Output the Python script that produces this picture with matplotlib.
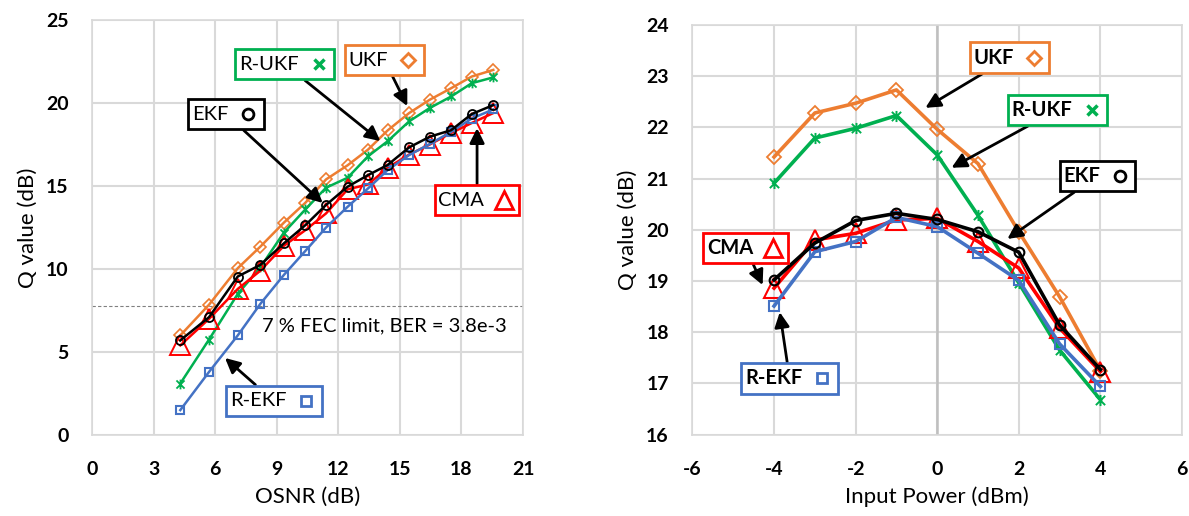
import matplotlib
matplotlib.use("Agg")
import matplotlib.pyplot as plt
from matplotlib.offsetbox import AnnotationBbox, TextArea, HPacker, DrawingArea
from matplotlib.lines import Line2D
from matplotlib.path import Path

plt.rcParams['font.family'] = ['Lato', 'DejaVu Sans']
plt.rcParams['axes.unicode_minus'] = False

# left panel: Q vs OSNR
osnr = [4.3, 5.7, 7.1, 8.2, 9.35, 10.4, 11.4, 12.45, 13.45, 14.4, 15.45, 16.45, 17.5, 18.5, 19.55]
ukf_l = [6.0, 7.85, 10.05, 11.35, 12.8, 14.0, 15.4, 16.25, 17.2, 18.35, 19.4, 20.2, 20.9, 21.6, 22.0]
rukf_l = [3.1, 5.75, 8.5, 10.1, 12.2, 13.6, 14.9, 15.5, 16.8, 17.7, 18.9, 19.7, 20.4, 21.2, 21.55]
ekf_l = [5.7, 7.1, 9.55, 10.25, 11.55, 12.65, 13.86, 14.96, 15.66, 16.27, 17.33, 17.97, 18.37, 19.34, 19.88]
cma_l = [5.4, 7.0, 8.8, 9.9, 11.4, 12.35, 13.35, 14.8, 15.1, 16.1, 16.9, 17.5, 18.2, 18.8, 19.4]
rekf_l = [1.5, 3.8, 6.0, 7.9, 9.65, 11.1, 12.5, 13.75, 14.86, 15.96, 16.87, 17.53, 18.27, 19.07, 19.62]
fec_q = 7.75
fec_text = "7 % FEC limit, BER = 3.8e-3"

# right panel: Q vs input power
power = [-4, -3, -2, -1, 0, 1, 2, 3, 4]
ukf_r = [21.42, 22.28, 22.47, 22.73, 21.96, 21.29, 19.96, 18.69, 17.25]
rukf_r = [20.91, 21.79, 21.98, 22.23, 21.46, 20.28, 18.96, 17.65, 16.68]
ekf_r = [19.02, 19.74, 20.18, 20.32, 20.2, 19.96, 19.56, 18.14, 17.27]
cma_r = [18.86, 19.8, 19.93, 20.19, 20.22, 19.77, 19.25, 18.08, 17.23]
rekf_r = [18.51, 19.57, 19.77, 20.24, 20.06, 19.54, 19.01, 17.77, 16.94]

ORANGE = "#ED7D31"
GREEN = "#00B050"
RED = "#FF0000"
BLUE = "#4472C4"
GRID = "#D9D9D9"

# excel-like "star" marker: an x with a vertical bar
STAR = Path([(-1, -1), (1, 1), (-1, 1), (1, -1), (0, -1.2), (0, 1.2)],
            [Path.MOVETO, Path.LINETO, Path.MOVETO, Path.LINETO, Path.MOVETO, Path.LINETO])


def marker_box(marker, color, size=13):
    da = DrawingArea(size + 4, size + 4, 0, 0)
    c = (size + 4) / 2
    if marker == 'x':
        da.add_artist(Line2D([c], [c], marker='x', ms=size * 0.6, mec=color, mew=2.5, ls='none'))
    else:
        ms = {'D': size * 0.55, 'o': size * 0.6, 's': size * 0.6, '^': size * 1.0}[marker]
        da.add_artist(Line2D([c], [c], marker=marker, ms=ms, mfc='none', mec=color, mew=2, ls='none'))
    return da


def callout(ax, name, marker, color, box_xy, head_xy, bold=False):
    txt = TextArea(name, textprops=dict(fontsize=14.5, color='black',
                                        fontweight='bold' if bold else 'normal'))
    pack = HPacker(children=[txt, marker_box(marker, color)], align='center', pad=0, sep=6)
    ab = AnnotationBbox(pack, head_xy, xybox=box_xy, xycoords='data', boxcoords='data',
                        frameon=True, pad=0.25,
                        bboxprops=dict(edgecolor=color, lw=2, facecolor='white'),
                        arrowprops=dict(arrowstyle='-|>', color='black', lw=2,
                                        mutation_scale=16, shrinkA=0, shrinkB=0))
    ab.set_zorder(10)
    ax.add_artist(ab)


def style_axes(ax):
    for s in ax.spines.values():
        s.set_color(GRID)
        s.set_linewidth(1.2)
    ax.grid(True, color=GRID, lw=1.5)
    ax.set_axisbelow(True)
    ax.tick_params(length=0, labelsize=14)
    ax.tick_params(axis='x', pad=19)
    ax.tick_params(axis='y', pad=17)
    for lab in ax.get_xticklabels() + ax.get_yticklabels():
        lab.set_fontweight('bold')


fig = plt.figure(figsize=(11.89, 5.16), dpi=100)
ax1 = fig.add_axes([0.0774, 0.157, 0.3625, 0.804])
ax2 = fig.add_axes([0.5824, 0.1578, 0.4117, 0.794])

# ---- left
ax1.axhline(fec_q, color='#808080', lw=0.8, ls=(0, (3, 2)), zorder=1)
ax1.plot(osnr, ukf_l, color=ORANGE, lw=1.8, marker='D', ms=6, mfc='none', mew=1.2, zorder=3)
ax1.plot(osnr, rukf_l, color=GREEN, lw=1.8, marker=STAR, ms=7, mew=1.3, zorder=3)
ax1.plot(osnr, cma_l, color=RED, lw=1.8, marker='^', ms=14, mfc='none', mew=1.4, zorder=4)
ax1.plot(osnr, rekf_l, color=BLUE, lw=1.8, marker='s', ms=6, mfc='none', mew=1.5, zorder=5)
ax1.plot(osnr, ekf_l, color='black', lw=1.8, marker='o', ms=6.5, mfc='none', mew=1.3, zorder=6)
ax1.text(8.3, 6.55, fec_text, fontsize=14.5, va='center', ha='left')
ax1.set_xlim(0, 21)
ax1.set_ylim(0, 25)
ax1.set_xticks(range(0, 22, 3))
ax1.set_yticks(range(0, 26, 5))
ax1.set_xlabel("OSNR (dB)", fontsize=16, labelpad=6)
ax1.set_ylabel("Q value (dB)", fontsize=16, labelpad=6)
style_axes(ax1)

callout(ax1, "R-UKF", 'x', GREEN, (9.39, 22.35), (14.05, 17.71))
callout(ax1, "UKF", 'D', ORANGE, (14.25, 22.59), (15.36, 19.82))
callout(ax1, "EKF", 'o', 'black', (6.53, 19.34), (11.24, 13.98))
callout(ax1, "CMA", '^', RED, (18.76, 14.16), (18.76, 18.49))
callout(ax1, "R-EKF", 's', BLUE, (8.86, 2.05), (6.48, 4.64))

# ---- right
ax2.plot(power, ukf_r, color=ORANGE, lw=2.6, marker='D', ms=7, mfc='none', mew=1.3, zorder=3)
ax2.plot(power, rukf_r, color=GREEN, lw=2.6, marker=STAR, ms=8, mew=1.4, zorder=3)
ax2.plot(power, cma_r, color=RED, lw=2.6, marker='^', ms=15, mfc='none', mew=1.5, zorder=4)
ax2.plot(power, rekf_r, color=BLUE, lw=2.6, marker='s', ms=7, mfc='none', mew=1.5, zorder=5)
ax2.plot(power, ekf_r, color='black', lw=2.6, marker='o', ms=7, mfc='none', mew=1.5, zorder=6)
ax2.set_xlim(-6, 6)
ax2.set_ylim(16, 24)
ax2.set_xticks(range(-6, 7, 2))
ax2.set_yticks(range(16, 25))
ax2.set_xlabel("Input Power (dBm)", fontsize=16, labelpad=6)
ax2.set_ylabel("Q value (dB)", fontsize=16, labelpad=6)
style_axes(ax2)
ax2.axvline(0, color='#BFBFBF', lw=1.8, zorder=1)

callout(ax2, "UKF", 'D', ORANGE, (1.77, 23.36), (-0.29, 22.38), bold=True)
callout(ax2, "R-UKF", 'x', GREEN, (2.95, 22.34), (0.35, 21.21), bold=True)
callout(ax2, "EKF", 'o', 'black', (3.93, 21.05), (1.72, 19.82), bold=True)
callout(ax2, "CMA", '^', RED, (-4.69, 19.64), (-4.28, 18.92), bold=True)
callout(ax2, "R-EKF", 's', BLUE, (-3.62, 17.1), (-3.86, 18.39), bold=True)

fig.savefig("out.png", dpi=100)
